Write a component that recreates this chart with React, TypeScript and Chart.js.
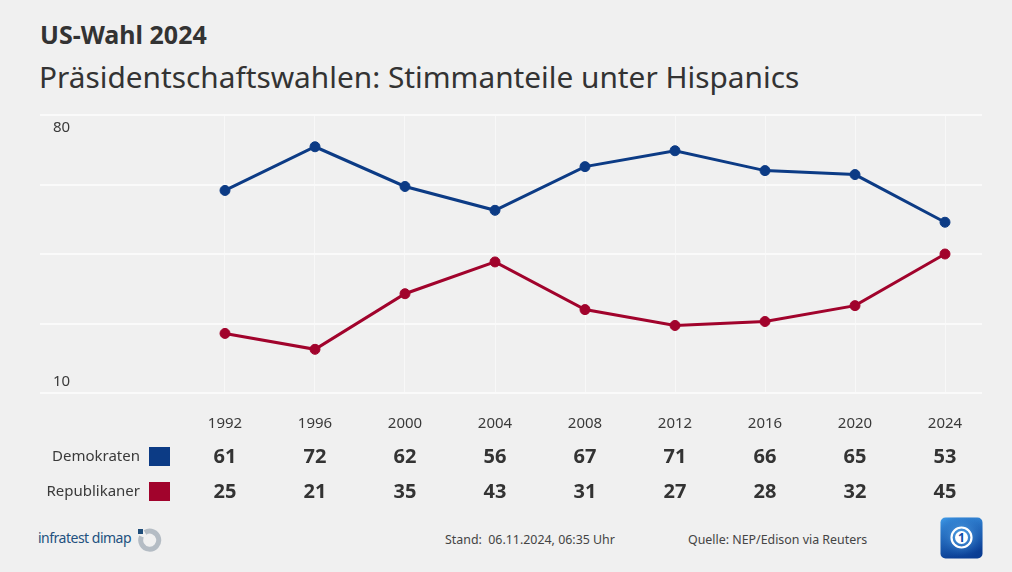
import { useEffect, useRef } from "react";
import { Chart, registerables } from "chart.js";

Chart.register(...registerables);

// Hispanic vote share (%) in US presidential elections
const years = [1992, 1996, 2000, 2004, 2008, 2012, 2016, 2020, 2024];
const demokraten = [61, 72, 62, 56, 67, 71, 66, 65, 53];
const republikaner = [25, 21, 35, 43, 31, 27, 28, 32, 45];
const seriesNames = ["Demokraten", "Republikaner"];
const yTickLabels = [80, 10];

const BLUE = "#0c3b85";
const RED = "#a1032c";
const TEXT = "#333333";
const FONT = "'Noto Sans', 'Open Sans', sans-serif";

const tablePlugin = {
  id: "valueTable",
  afterDraw(chart: any) {
    const { ctx, chartArea, scales } = chart;
    const x = scales.x;
    const y = scales.y;
    ctx.save();

    // y-axis labels sit inside the plot, next to the outer gridlines
    ctx.fillStyle = "#3a3a3a";
    ctx.font = `15px ${FONT}`;
    ctx.textAlign = "left";
    ctx.textBaseline = "middle";
    ctx.fillText(String(yTickLabels[0]), chartArea.left + 13, y.getPixelForValue(yTickLabels[0]) + 13);
    ctx.fillText(String(yTickLabels[1]), chartArea.left + 13, y.getPixelForValue(yTickLabels[1]) - 11);

    const base = chartArea.bottom;
    const yearY = base + 31;
    const rowY = [base + 64, base + 99];

    // year row
    ctx.textAlign = "center";
    ctx.font = `15px ${FONT}`;
    ctx.fillStyle = "#3a3a3a";
    years.forEach((yr) => {
      ctx.fillText(String(yr), x.getPixelForValue(yr), yearY);
    });

    // series rows: name, colour swatch, values
    const rows = [demokraten, republikaner];
    const colors = [BLUE, RED];
    rows.forEach((vals, r) => {
      const cy = rowY[r];
      ctx.textAlign = "right";
      ctx.font = `15px ${FONT}`;
      ctx.fillStyle = "#3a3a3a";
      ctx.fillText(seriesNames[r], 140, cy);
      ctx.fillStyle = colors[r];
      ctx.fillRect(149, cy - 10, 21, 19);
      ctx.textAlign = "center";
      ctx.font = `bold 20px ${FONT}`;
      ctx.fillStyle = TEXT;
      vals.forEach((v, i) => {
        ctx.fillText(String(v), x.getPixelForValue(years[i]), cy);
      });
    });
    ctx.restore();
  },
};

function ChartCanvas() {
  const ref = useRef<HTMLCanvasElement | null>(null);
  useEffect(() => {
    if (!ref.current) return;
    const left = 40;
    const right = 982;
    const firstX = 225;
    const lastX = 945;
    const perYear = (lastX - firstX) / (years[years.length - 1] - years[0]);
    const xMin = years[0] - (firstX - left) / perYear;
    const xMax = years[years.length - 1] + (right - lastX) / perYear;

    const chart = new Chart(ref.current, {
      type: "line",
      data: {
        datasets: [
          {
            label: seriesNames[0],
            data: years.map((yr, i) => ({ x: yr, y: demokraten[i] })),
            borderColor: BLUE,
            backgroundColor: BLUE,
            pointBackgroundColor: BLUE,
            pointBorderColor: BLUE,
            borderWidth: 3,
            pointRadius: 5,
            pointBorderWidth: 1,
          },
          {
            label: seriesNames[1],
            data: years.map((yr, i) => ({ x: yr, y: republikaner[i] })),
            borderColor: RED,
            backgroundColor: RED,
            pointBackgroundColor: RED,
            pointBorderColor: RED,
            borderWidth: 3,
            pointRadius: 5,
            pointBorderWidth: 1,
          },
        ],
      },
      options: {
        animation: false,
        responsive: false,
        maintainAspectRatio: false,
        layout: { padding: { left: 40, right: 30, top: 15, bottom: 117 } },
        plugins: { legend: { display: false }, tooltip: { enabled: false } },
        scales: {
          x: {
            type: "linear",
            min: xMin,
            max: xMax,
            afterBuildTicks: (axis: any) => {
              axis.ticks = years.map((v) => ({ value: v }));
            },
            ticks: { display: false },
            grid: { color: "rgba(255,255,255,0.55)", lineWidth: 1, drawTicks: false },
            border: { display: false },
          },
          y: {
            min: 10,
            max: 80,
            ticks: { display: false, stepSize: 17.5 },
            grid: { color: "#fafafa", lineWidth: 2, drawTicks: false },
            border: { display: false },
          },
        },
      },
      plugins: [tablePlugin],
    });
    return () => chart.destroy();
  }, []);
  return <canvas ref={ref} width={1012} height={410} style={{ position: "absolute", left: 0, top: 100 }} />;
}

export default function App() {
  return (
    <div
      style={{
        position: "fixed",
        left: 0,
        top: 0,
        width: 1012,
        height: 572,
        background: "#f0f0f0",
        fontFamily: FONT,
        overflow: "hidden",
      }}
    >
      <div style={{ position: "absolute", left: 40, top: 17, fontSize: 25, fontWeight: 700, color: "#333", lineHeight: "34px" }}>
        US-Wahl 2024
      </div>
      <div style={{ position: "absolute", left: 39, top: 57, fontSize: 29.8, fontWeight: 400, color: "#333", lineHeight: "40px", whiteSpace: "nowrap" }}>
        Präsidentschaftswahlen: Stimmanteile unter Hispanics
      </div>
      <ChartCanvas />
      <div style={{ position: "absolute", left: 38, top: 527, fontSize: 14, color: "#23517f", lineHeight: "22px", letterSpacing: -0.5, whiteSpace: "nowrap" }}>
        infratest dimap
      </div>
      <svg style={{ position: "absolute", left: 137, top: 528 }} width={26} height={26} viewBox="0 0 26 26">
        <path d="M 8 4.5 A 9 9 0 1 1 4.5 8.5" fill="none" stroke="#b4bcc4" strokeWidth={5} />
        <rect x={1} y={1} width={5} height={5} fill="#1f4d7a" />
      </svg>
      <div style={{ position: "absolute", left: 445, top: 530, fontSize: 12.4, color: "#444", lineHeight: "20px", whiteSpace: "pre" }}>
        {"Stand:  06.11.2024, 06:35 Uhr"}
      </div>
      <div style={{ position: "absolute", left: 688, top: 530, fontSize: 12.4, color: "#444", lineHeight: "20px", whiteSpace: "nowrap" }}>
        Quelle: NEP/Edison via Reuters
      </div>
      <svg style={{ position: "absolute", left: 940, top: 517 }} width={43} height={42} viewBox="0 0 43 42">
        <defs>
          <linearGradient id="ardg" x1="0" y1="0" x2="0.3" y2="1">
            <stop offset="0" stopColor="#3f9be8" />
            <stop offset="1" stopColor="#0a3d93" />
          </linearGradient>
          <radialGradient id="ardr" cx="0.5" cy="0.45" r="0.6">
            <stop offset="0" stopColor="#5fb4f2" />
            <stop offset="1" stopColor="#0e4aa6" stopOpacity="0" />
          </radialGradient>
        </defs>
        <rect x={0.5} y={0.5} width={42} height={41} rx={5} fill="url(#ardg)" />
        <rect x={0.5} y={0.5} width={42} height={41} rx={5} fill="url(#ardr)" />
        <circle cx={21.5} cy={20.5} r={10} fill="none" stroke="#ffffff" strokeWidth={2.2} />
        <circle cx={21.5} cy={20.5} r={6.5} fill="#ffffff" />
        <text x={21.5} y={25} textAnchor="middle" fontSize={12} fontWeight={700} fill="#0d4da8" fontFamily={FONT}>
          1
        </text>
      </svg>
    </div>
  );
}
